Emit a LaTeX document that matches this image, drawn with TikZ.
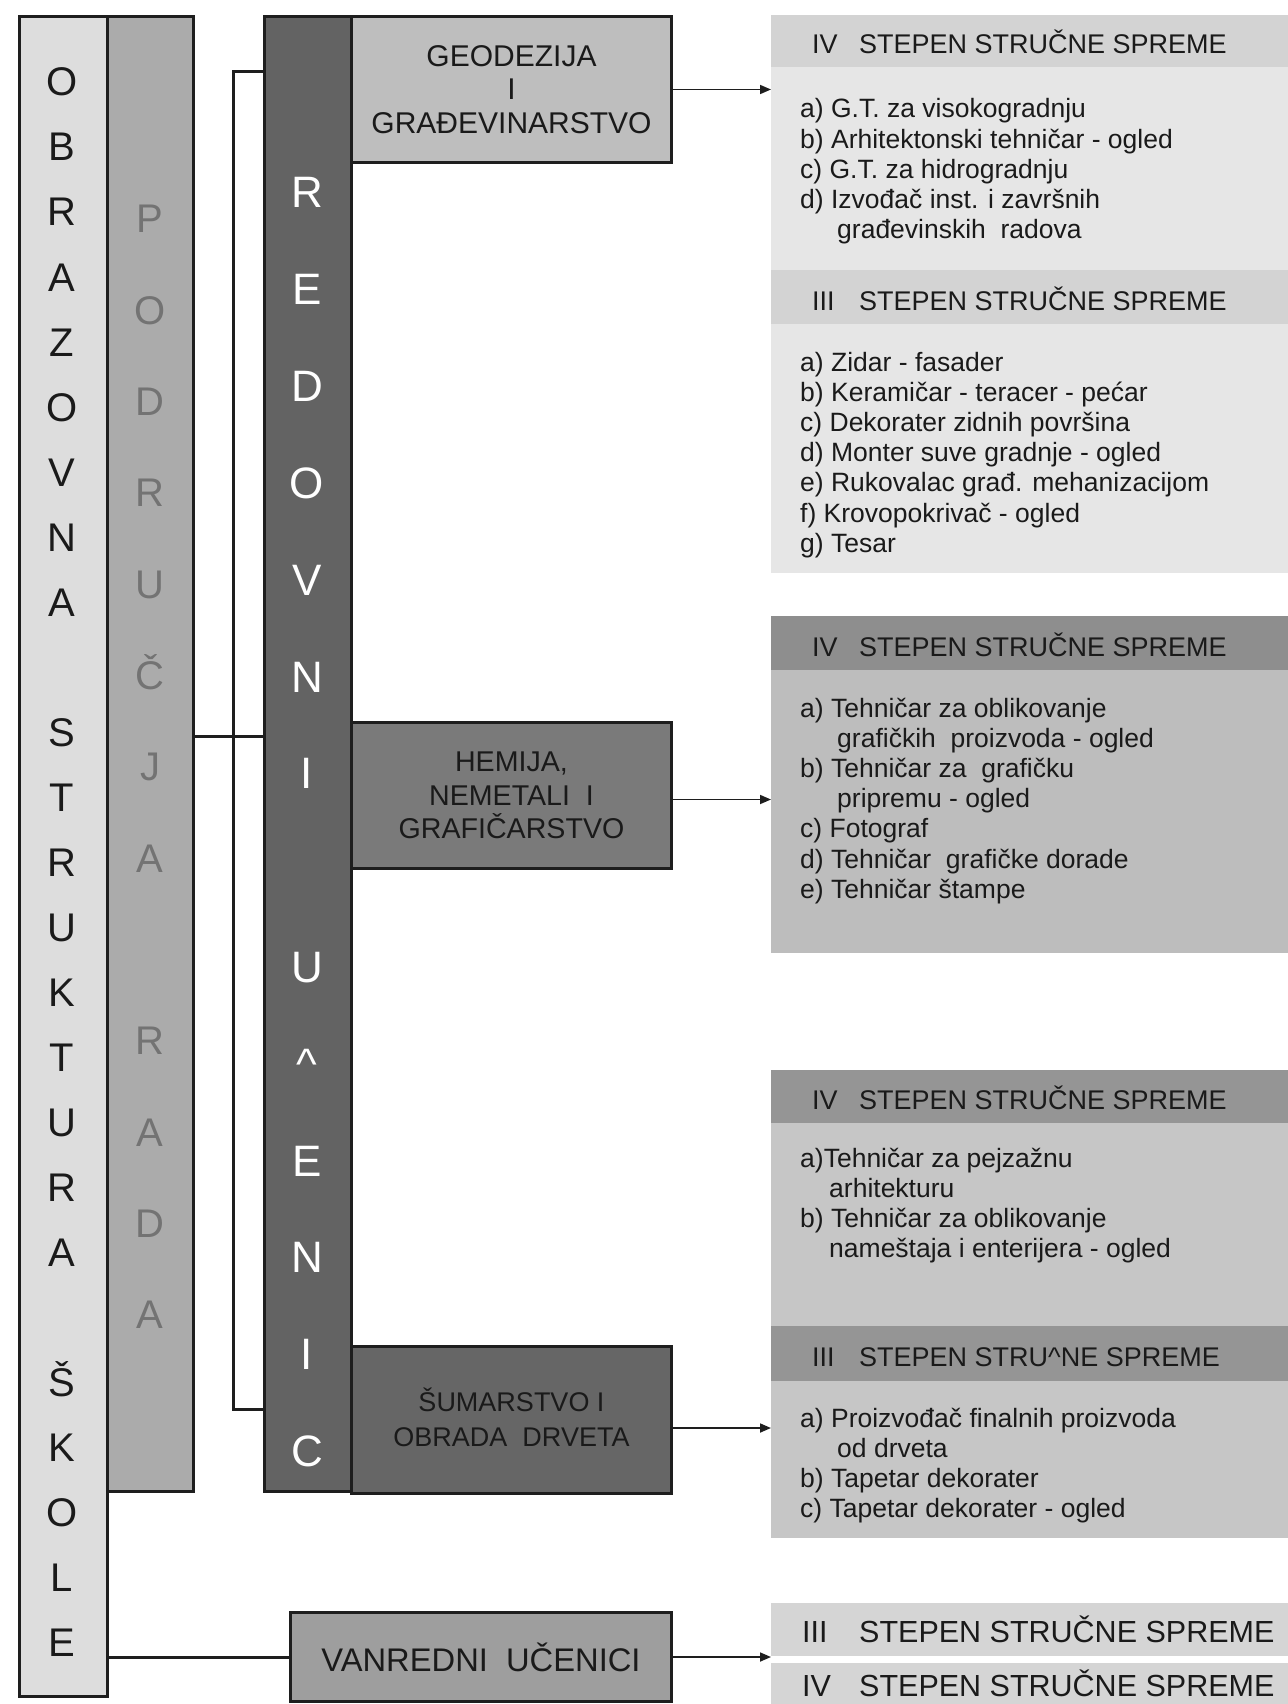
\documentclass[tikz,border=0pt]{standalone}
\usepackage{fontspec}
\setmainfont{Liberation Sans}
\usetikzlibrary{positioning,arrows.meta}

\definecolor{rahmenFarbe}{HTML}{1E1E1E}
\definecolor{schrift}{HTML}{1A1A1A}
\definecolor{obrFarbe}{HTML}{DDDDDD}
\definecolor{podFarbe}{HTML}{ABABAB}
\definecolor{podSchrift}{HTML}{737373}
\definecolor{redFarbe}{HTML}{636363}
\definecolor{geoFarbe}{HTML}{BEBEBE}
\definecolor{hemFarbe}{HTML}{7A7A7A}
\definecolor{sumFarbe}{HTML}{666666}
\definecolor{vanFarbe}{HTML}{9E9E9E}
\definecolor{kopfHell}{HTML}{D3D3D3}
\definecolor{koerperHell}{HTML}{E6E6E6}
\definecolor{kopfDunkel}{HTML}{8E8E8E}
\definecolor{koerperDunkel}{HTML}{BDBDBD}
\definecolor{kopfMittel}{HTML}{959595}
\definecolor{koerperMittel}{HTML}{C6C6C6}
\definecolor{kopfUnten}{HTML}{D5D5D5}

\def\obrazovna{O,B,R,A,Z,O,V,N,A,,S,T,R,U,K,T,U,R,A,,Š,K,O,L,E}
\def\podrucja{P,O,D,R,U,Č,J,A,,R,A,D,A}
\def\redovni{R,E,D,O,V,N,I,,U,\textasciicircum,E,N,I,C}

% Zeilen eines Feldes: #1 Name, #2 erste Grundlinie, #3 Einzug/Text
\newcommand{\zeilen}[3]{%
  \foreach \x/\zeile [count=\i from 0] in {#3} {
    \node[zeile] (#1-\i) at (800+\x, #2+30.2*\i) {\zeile};
  }%
}

\begin{document}
\begin{tikzpicture}[x=1pt,y=-1pt,
    rahmen/.style={draw=rahmenFarbe, line width=3pt, inner sep=0pt, anchor=north west},
    kasten/.style={rahmen, align=center, text=schrift},
    buchstabe/.style={anchor=base, inner sep=0pt},
    verbindung/.style={draw=rahmenFarbe, line width=3pt},
    pfeil/.style={draw=rahmenFarbe, line width=1.7pt, -{Triangle[length=11pt,width=9pt]}},
    feld/.style={anchor=north west, inner sep=0pt, minimum width=520pt},
    titel/.style={anchor=base west, inner sep=0pt, text=schrift},
    zeile/.style={anchor=base west, inner sep=0pt, text=schrift, font=\fontsize{26.5}{30}\selectfont},
  ]
\useasboundingbox (0,0) rectangle (1287,1704);

% Spalten
\node[rahmen, fill=obrFarbe, minimum width=88pt, minimum height=1680pt] (obr) at (18,15) {};
\node[rahmen, fill=podFarbe, minimum width=86pt, minimum height=1475pt] (pod) at (106,15) {};
\node[rahmen, fill=redFarbe, minimum width=87pt, minimum height=1475pt] (red) at (263,15) {};

\foreach \z [count=\i from 0] in \obrazovna {
  \ifx\z\empty\else
    \node[buchstabe, text=schrift, font=\fontsize{40}{40}\selectfont] (obr-\i) at (62, 96+65*\i) {\z};
  \fi
}
\foreach \z [count=\i from 0] in \podrucja {
  \ifx\z\empty\else
    \node[buchstabe, text=podSchrift, font=\fontsize{40}{40}\selectfont] (pod-\i) at (150, 233+91.3*\i) {\z};
  \fi
}
\foreach \z [count=\i from 0] in \redovni {
  \ifx\z\empty\else
    \node[buchstabe, text=white, font=\fontsize{44}{44}\selectfont] (red-\i) at (307, 208+96.8*\i) {\z};
  \fi
}

% Bereiche
\node[kasten, fill=geoFarbe, minimum width=320pt, minimum height=146pt,
  font=\fontsize{30}{33.5}\selectfont] (geo) at (350,15) {GEODEZIJA\\I\\GRAĐEVINARSTVO};
\node[kasten, fill=hemFarbe, minimum width=320pt, minimum height=146pt,
  font=\fontsize{28.6}{33.5}\selectfont] (hem) at (350,721) {HEMIJA,\\NEMETALI\ \ I\\GRAFIČARSTVO};
\node[kasten, fill=sumFarbe, minimum width=320pt, minimum height=147pt,
  font=\fontsize{27}{35}\selectfont] (sum) at (350,1345) {\smash{Š}UMARSTVO I\\OBRADA\ \ DRVETA};
\node[kasten, fill=vanFarbe, minimum width=381pt, minimum height=89pt,
  font=\fontsize{32.7}{36}\selectfont] (van) at (289,1611) {VANREDNI\ \ UČENICI};

% Verbindungen links
\coordinate (klammerOben) at (233,72);
\coordinate (klammerUnten) at (233,1409);
\coordinate (mitte) at (233,736);
\draw[verbindung] (red.west |- klammerOben) -- (klammerOben) -- (klammerUnten) -- (red.west |- klammerUnten);
\draw[verbindung] (pod.east |- mitte) -- (red.west |- mitte);
\draw[verbindung] (obr.east |- van.west) -- (van.west);

% Felder rechts
\foreach \name/\oben/\hoehe/\farbe in {
    b1/67/203/koerperHell, b2/324/249/koerperHell, b3/670/283/koerperDunkel,
    b4/1123/203/koerperMittel, b5/1381/157/koerperMittel} {
  \node[feld, fill=\farbe, minimum height=\hoehe pt] (\name) at (771,\oben) {};
}
\foreach \name/\oben/\hoehe/\farbe/\roem/\rx/\gr/\text in {
    k1/15/52/kopfHell/IV/812/27/STEPEN STRUČNE SPREME,
    k2/270/54/kopfHell/III/812/27/STEPEN STRUČNE SPREME,
    k3/616/54/kopfDunkel/IV/812/27/STEPEN STRUČNE SPREME,
    k4/1070/53/kopfMittel/IV/812/27/STEPEN STRUČNE SPREME,
    k5/1326/55/kopfMittel/III/812/27/STEPEN STRU\textasciicircum NE SPREME,
    k6/1603/53/kopfUnten/III/802/30.5/STEPEN STRUČNE SPREME,
    k7/1663/41/kopfUnten/IV/802/30.5/STEPEN STRUČNE SPREME} {
  \node[feld, fill=\farbe, minimum height=\hoehe pt] (\name) at (771,\oben) {};
  \node[titel, font=\fontsize{\gr}{\gr}\selectfont] (\name-r) at (\rx, \oben+\hoehe/2+13) {\roem};
  \node[titel, font=\fontsize{\gr}{\gr}\selectfont] (\name-t) at (859, \oben+\hoehe/2+13) {\text};
}

\zeilen{b1}{118}{0/a) G.T. za visokogradnju, 0/b) Arhitektonski tehničar - ogled,
  0/c) G.T. za hidrogradnju, 0/d) Izvođač inst. i završnih, 37/građevinskih\ \ radova}
\zeilen{b2}{371}{0/a) Zidar - fasader, 0/b) Keramičar - teracer - pećar,
  0/c) Dekorater zidnih površina, 0/d) Monter suve gradnje - ogled,
  0/e) Rukovalac građ. mehanizacijom, 0/f) Krovopokrivač - ogled, 0/g) Tesar}
\zeilen{b3}{717}{0/a) Tehničar za oblikovanje, 37/grafičkih\ \ proizvoda - ogled,
  0/b) Tehničar za\ \ grafičku, 37/pripremu - ogled, 0/c) Fotograf,
  0/d) Tehničar\ \ grafičke dorade, 0/e) Tehničar štampe}
\zeilen{b4}{1167}{0/a)Tehničar za pejzažnu, 29/arhitekturu,
  0/b) Tehničar za oblikovanje, 29/nameštaja i enterijera - ogled}
\zeilen{b5}{1427}{0/a) Proizvođač finalnih proizvoda, 37/od drveta,
  0/b) Tapetar dekorater, 0/c) Tapetar dekorater - ogled}

% Pfeile
\draw[pfeil] (geo.east) -- (geo.east -| b1.west);
\draw[pfeil] ([yshift=-4pt]hem.east) -- ([yshift=-4pt]hem.east -| b3.west);
\draw[pfeil] ([yshift=-8pt]sum.east) -- ([yshift=-8pt]sum.east -| b5.west);
\draw[pfeil] (van.east) -- (van.east -| k6.west);

\end{tikzpicture}
\end{document}
